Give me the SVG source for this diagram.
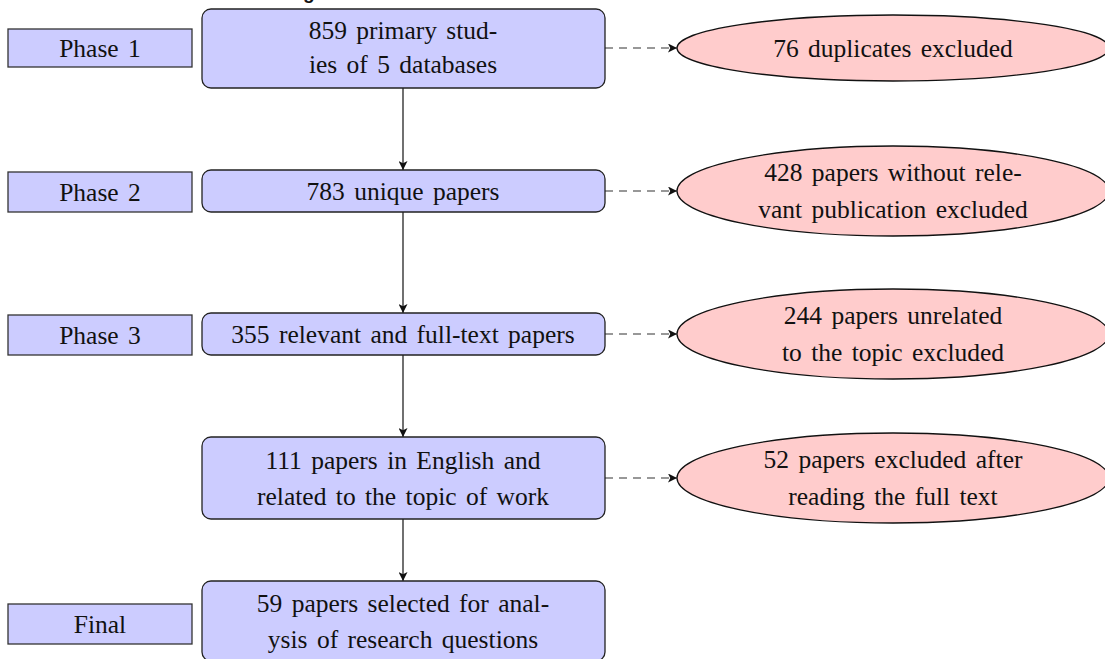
<svg xmlns="http://www.w3.org/2000/svg" width="1105" height="659" viewBox="0 0 1105 659">
<defs>
<style>
.phase{fill:#ccccff;stroke:#333;stroke-width:1.3}
.main{fill:#ccccff;stroke:#222;stroke-width:1.3}
.excl{fill:#ffcccc;stroke:#111;stroke-width:1.3}
.t{font-family:"Liberation Serif","Times New Roman",serif;font-size:25.5px;fill:#111;text-anchor:middle;word-spacing:3px}
.title{font-family:"Liberation Sans",Arial,sans-serif;font-size:19px;font-weight:bold;fill:#111;text-anchor:middle}
.solid{stroke:#111;stroke-width:1.2;fill:none}
.dash{stroke:#333;stroke-width:1.2;fill:none;stroke-dasharray:8 6}
</style>
<marker id="ah" viewBox="0 0 10 10" refX="10" refY="5" markerWidth="9" markerHeight="9" markerUnits="userSpaceOnUse" orient="auto">
<path d="M0,0 L10,5 L0,10 L2.5,5 Z" fill="#111"/>
</marker>
</defs>
<rect width="1105" height="659" fill="#fff"/>
<text class="title" x="483" y="-1">Figure 1: Flowchart of the selection method</text>

<g id="connectors">
<line class="solid" x1="403" y1="88" x2="403" y2="170" marker-end="url(#ah)"/>
<line class="solid" x1="403" y1="212" x2="403" y2="313" marker-end="url(#ah)"/>
<line class="solid" x1="403" y1="355" x2="403" y2="437" marker-end="url(#ah)"/>
<line class="solid" x1="403" y1="519" x2="403" y2="581" marker-end="url(#ah)"/>
<line class="dash" x1="605" y1="48" x2="677" y2="48" marker-end="url(#ah)"/>
<line class="dash" x1="605" y1="191" x2="677" y2="191" marker-end="url(#ah)"/>
<line class="dash" x1="605" y1="334" x2="677" y2="334" marker-end="url(#ah)"/>
<line class="dash" x1="605" y1="478" x2="677" y2="478" marker-end="url(#ah)"/>
</g>

<g id="phase1"><rect class="phase" x="8" y="29" width="184" height="38"/><text class="t" x="100" y="57">Phase 1</text></g>
<g id="phase2"><rect class="phase" x="8" y="172" width="184" height="40"/><text class="t" x="100" y="201">Phase 2</text></g>
<g id="phase3"><rect class="phase" x="8" y="315" width="184" height="40"/><text class="t" x="100" y="344">Phase 3</text></g>
<g id="final"><rect class="phase" x="8" y="604" width="184" height="40"/><text class="t" x="100" y="633">Final</text></g>

<g id="box1"><rect class="main" x="202" y="9" width="403" height="79" rx="9"/>
<text class="t" x="403" y="39">859 primary stud-</text><text class="t" x="403" y="73">ies of 5 databases</text></g>
<g id="box2"><rect class="main" x="202" y="170" width="403" height="42" rx="9"/>
<text class="t" x="403" y="200">783 unique papers</text></g>
<g id="box3"><rect class="main" x="202" y="313" width="403" height="42" rx="9"/>
<text class="t" x="403" y="343">355 relevant and full-text papers</text></g>
<g id="box4"><rect class="main" x="202" y="437" width="403" height="82" rx="9"/>
<text class="t" x="403" y="469">111 papers in English and</text><text class="t" x="403" y="505">related to the topic of work</text></g>
<g id="box5"><rect class="main" x="202" y="581" width="403" height="80" rx="9"/>
<text class="t" x="403" y="612">59 papers selected for anal-</text><text class="t" x="403" y="648">ysis of research questions</text></g>

<g id="excl1"><ellipse class="excl" cx="893" cy="48" rx="216" ry="33"/>
<text class="t" x="893" y="57">76 duplicates excluded</text></g>
<g id="excl2"><ellipse class="excl" cx="893" cy="191" rx="216" ry="45"/>
<text class="t" x="893" y="181">428 papers without rele-</text><text class="t" x="893" y="218">vant publication excluded</text></g>
<g id="excl3"><ellipse class="excl" cx="893" cy="334" rx="216" ry="45"/>
<text class="t" x="893" y="324">244 papers unrelated</text><text class="t" x="893" y="361">to the topic excluded</text></g>
<g id="excl4"><ellipse class="excl" cx="893" cy="478" rx="216" ry="45"/>
<text class="t" x="893" y="468">52 papers excluded after</text><text class="t" x="893" y="505">reading the full text</text></g>
</svg>
